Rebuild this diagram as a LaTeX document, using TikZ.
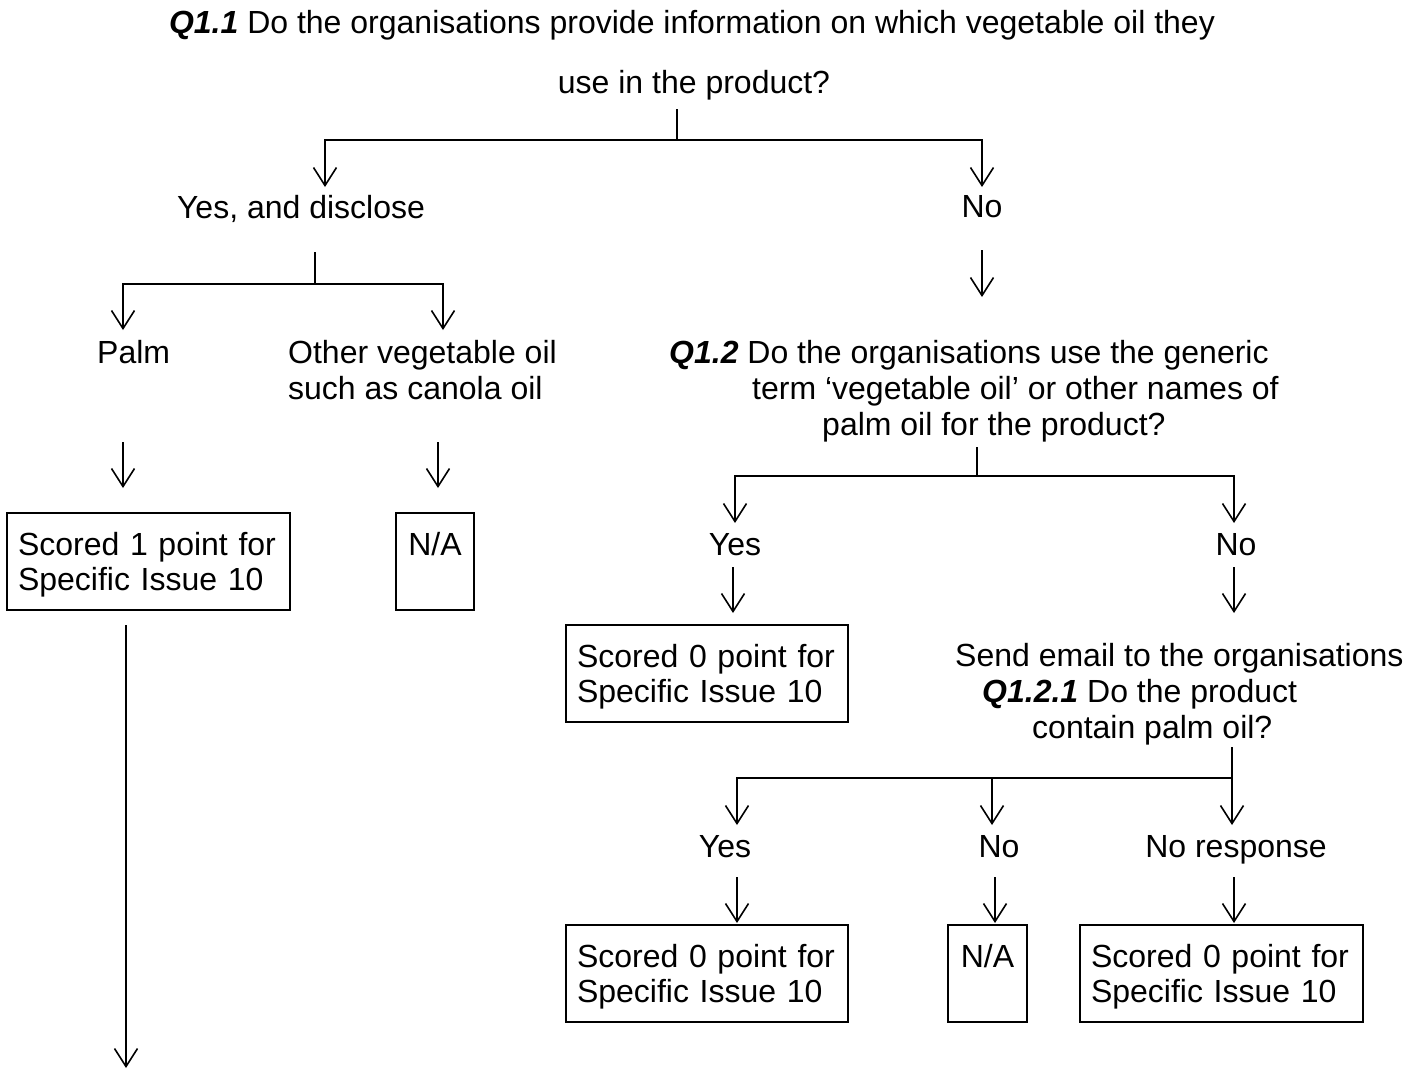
\documentclass[tikz,border=0pt]{standalone}
\usepackage{fontspec}
\setmainfont{Liberation Sans}
\usetikzlibrary{arrows.meta}
\newcommand{\fsz}{\fontsize{32}{35}\selectfont}
\newcommand{\qb}[1]{\textbf{\textit{#1}}}
\tikzset{
  txt/.style={inner sep=0pt, anchor=base, font=\fsz},
  txtl/.style={inner sep=0pt, anchor=base west, font=\fsz},
  ln/.style={line width=1.6pt},
  arr/.style={line width=1.6pt, -{Straight Barb[length=18pt,width=23pt,line width=1.6pt]}},
  scorebox/.style={draw, line width=1.6pt, anchor=north west, font=\fsz, align=left,
    inner xsep=11pt, inner ysep=0pt, minimum height=97pt, outer sep=0pt,
    text height=28.7pt, text depth=41.7pt},
  nabox/.style={draw, line width=1.6pt, anchor=north west, font=\fsz, align=center,
    inner xsep=0pt, inner ysep=0pt, minimum height=97pt, outer sep=0pt,
    text height=28.7pt, text depth=41.7pt}
}
\begin{document}
\begin{tikzpicture}[x=1pt,y=-1pt]
\useasboundingbox (0,0) rectangle (1419,1072);
% title
\node[txt] (q11a) at (692,33) {\qb{Q1.1} Do the organisations provide information on which vegetable oil they};
\node[txt] (q11b) at (694,93) {use in the product?};
\coordinate (s1) at (677,109); \coordinate (j1) at (677,140);
\coordinate (tyes1) at (325,187); \coordinate (tno1) at (982,187);
\draw[ln] (s1) -- (j1);
\draw[arr] (j1) -| (tyes1);
\draw[arr] (j1) -| (tno1);
% first answers
\node[txt] (yes1) at (301,218) {Yes, and disclose};
\node[txt] (no1) at (982,217) {No};
% left branch
\coordinate (s2) at (315,252); \coordinate (j2) at (315,284);
\coordinate (tpalm) at (123,330); \coordinate (tother) at (443,330);
\draw[ln] (s2) -- (j2);
\draw[arr] (j2) -| (tpalm);
\draw[arr] (j2) -| (tother);
\node[txtl] (palm) at (97,363) {Palm};
\node[txtl] (other1) at (288,363) {Other vegetable oil};
\node[txtl] (other2) at (288,399) {such as canola oil};
\coordinate (a1s) at (123,442); \coordinate (a1e) at (123,488);
\coordinate (a2s) at (438,442); \coordinate (a2e) at (438,488);
\draw[arr] (a1s) -- (a1e);
\draw[arr] (a2s) -- (a2e);
\node[scorebox, text width=261pt] (box1) at (7,513) {Scored 1 point for\\Specific Issue 10};
\node[nabox, text width=78pt] (na1) at (396,513) {N/A\\\phantom{p}};
\coordinate (lend) at (126,1068);
\draw[arr] (box1.south -| lend) ++(0,15) -- (lend);
% right branch
\coordinate (a3s) at (982,250); \coordinate (a3e) at (982,297);
\draw[arr] (a3s) -- (a3e);
\node[txtl] (q12a) at (669,363) {\qb{Q1.2} Do the organisations use the generic};
\node[txtl] (q12b) at (752,399) {term ‘vegetable oil’ or other names of};
\node[txtl] (q12c) at (822,435) {palm oil for the product?};
\coordinate (s3) at (977,447); \coordinate (j3) at (977,476);
\coordinate (tyes2) at (735,523); \coordinate (tno2) at (1234,523);
\draw[ln] (s3) -- (j3);
\draw[arr] (j3) -| (tyes2);
\draw[arr] (j3) -| (tno2);
\node[txt] (yes2) at (735,555) {Yes};
\node[txt] (no2) at (1236,555) {No};
\coordinate (a4s) at (733,567); \coordinate (a4e) at (733,613);
\coordinate (a5s) at (1234,567); \coordinate (a5e) at (1234,613);
\draw[arr] (a4s) -- (a4e);
\draw[arr] (a5s) -- (a5e);
\node[scorebox, text width=260pt] (box2) at (566,625) {Scored 0 point for\\Specific Issue 10};
\node[txtl] (send1) at (955,666) {Send email to the organisations};
\node[txtl] (send2) at (982,702) {\qb{Q1.2.1} Do the product};
\node[txtl] (send3) at (1032,738) {contain palm oil?};
\coordinate (s4) at (1232,747); \coordinate (j4) at (1232,778);
\coordinate (tyes3) at (737,825); \coordinate (tno3) at (992,825); \coordinate (tnr) at (1232,825);
\draw[ln] (s4) -- (j4);
\draw[arr] (j4) -| (tyes3);
\draw[arr] (j4 -| tno3) -- (tno3);
\draw[arr] (s4) -- (tnr);
\node[txt] (yes3) at (725,857) {Yes};
\node[txt] (no3) at (999,857) {No};
\node[txt] (nr3) at (1236,857) {No response};
\coordinate (a6s) at (737,877); \coordinate (a6e) at (737,923);
\coordinate (a7s) at (995,877); \coordinate (a7e) at (995,923);
\coordinate (a8s) at (1234,877); \coordinate (a8e) at (1234,923);
\draw[arr] (a6s) -- (a6e);
\draw[arr] (a7s) -- (a7e);
\draw[arr] (a8s) -- (a8e);
\node[scorebox, text width=260pt] (box3) at (566,925) {Scored 0 point for\\Specific Issue 10};
\node[nabox, text width=79pt] (na2) at (948,925) {N/A\\\phantom{p}};
\node[scorebox, text width=261pt] (box4) at (1080,925) {Scored 0 point for\\Specific Issue 10};
\end{tikzpicture}
\end{document}
